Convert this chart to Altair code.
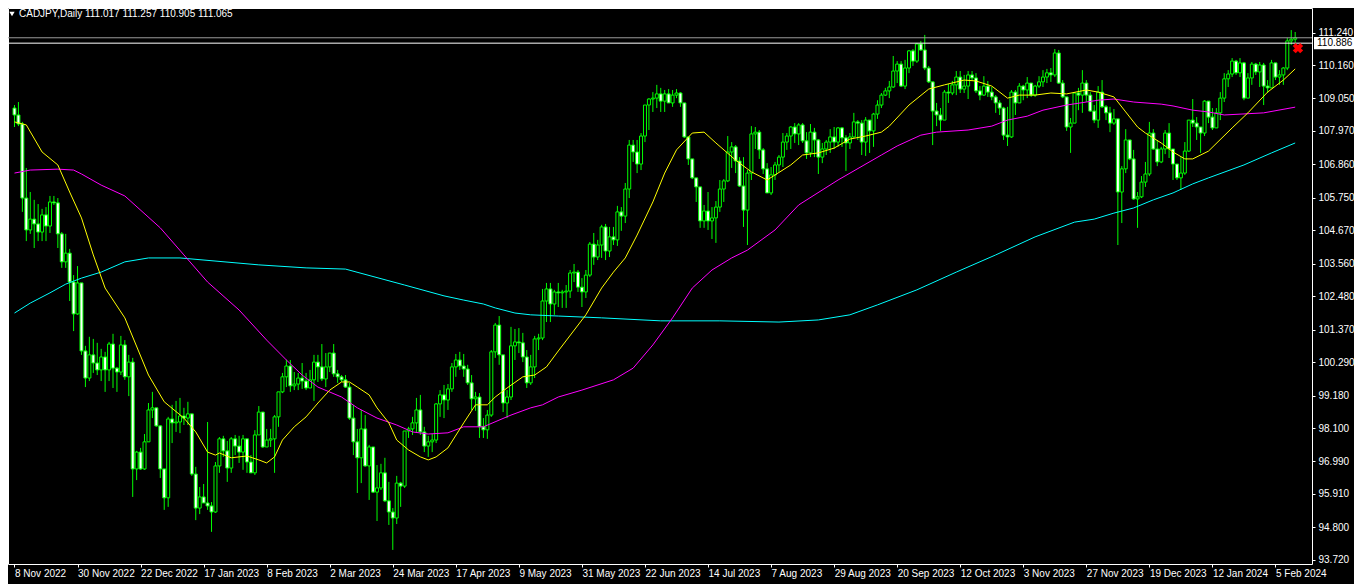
import altair as alt
import pandas as pd
import numpy as np

title_text = "CADJPY,Daily  111.017 111.257 110.905 111.065"
date_labels = ["8 Nov 2022", "30 Nov 2022", "22 Dec 2022", "17 Jan 2023", "8 Feb 2023",
               "2 Mar 2023", "24 Mar 2023", "17 Apr 2023", "9 May 2023", "31 May 2023",
               "22 Jun 2023", "14 Jul 2023", "7 Aug 2023", "29 Aug 2023", "20 Sep 2023",
               "12 Oct 2023", "3 Nov 2023", "27 Nov 2023", "19 Dec 2023", "12 Jan 2024",
               "5 Feb 2024"]
price_ticks = [111.24, 110.16, 109.05, 107.97, 106.86, 105.75, 104.67, 103.56, 102.48,
               101.37, 100.29, 99.18, 98.10, 96.99, 95.91, 94.80, 93.72]

first_open = 108.73
closes = [108.50,108.20,105.74,104.68,105.04,104.88,104.61,105.18,104.81,105.61,
105.58,104.55,103.62,103.91,102.95,101.89,102.92,100.66,99.76,100.53,
100.26,100.03,100.46,100.03,100.89,100.09,99.96,100.86,99.80,100.29,
96.74,97.30,96.74,97.64,98.70,98.77,98.17,96.74,95.78,98.40,
98.27,98.30,98.50,98.43,98.57,96.57,95.44,95.81,95.61,95.51,
95.31,96.84,97.74,97.34,96.77,97.74,97.50,97.30,97.74,96.97,
96.61,97.87,98.63,97.47,97.70,97.74,98.47,99.30,99.80,100.16,
99.50,99.56,99.76,99.66,99.43,99.70,100.29,100.13,99.73,100.13,
100.59,99.90,99.80,99.70,99.46,98.43,97.64,97.11,98.07,96.84,
97.47,95.97,96.11,96.61,95.68,95.31,95.11,96.27,96.17,98.00,
98.07,98.27,98.70,97.97,97.50,97.64,97.70,98.90,99.20,99.03,
99.40,100.13,100.36,100.16,100.06,99.60,99.07,99.13,98.14,98.04,
98.53,100.63,101.52,100.53,98.93,99.13,100.83,100.96,100.93,100.46,
99.60,100.13,101.06,101.09,102.32,102.72,102.22,102.62,102.59,102.62,
102.65,103.25,103.28,102.78,102.62,103.18,104.21,103.78,104.18,104.78,
103.98,104.45,104.35,105.28,105.14,106.04,107.50,107.27,106.87,107.80,
108.83,109.03,109.06,109.20,108.96,109.20,108.90,109.16,109.23,108.90,
107.77,107.04,106.41,106.11,104.98,105.31,104.98,105.08,105.44,106.04,
106.31,107.27,107.44,106.97,106.14,105.34,106.57,107.87,107.93,107.34,
106.71,105.91,106.51,106.84,107.10,107.60,107.80,108.10,107.87,108.17,
107.64,107.24,107.93,107.67,107.10,107.37,107.60,107.77,107.60,108.07,
107.74,107.57,107.77,108.27,108.23,107.60,108.33,107.97,108.53,108.83,
109.16,109.30,109.43,109.96,110.19,109.46,110.06,110.63,110.29,110.86,
110.66,110.06,109.60,108.63,108.50,108.33,109.26,109.23,109.50,109.76,
109.36,109.46,109.83,109.73,109.30,109.16,109.46,109.26,109.10,108.90,
108.73,107.83,107.77,109.26,108.90,109.46,109.33,109.56,109.16,109.46,
109.60,109.76,109.90,109.83,110.56,109.56,109.10,108.10,108.23,109.23,
109.16,109.56,109.16,108.63,108.33,109.26,108.77,108.57,108.23,108.37,
105.94,106.71,107.67,107.04,105.71,105.78,106.27,106.54,107.90,107.37,
106.94,107.37,107.90,107.37,106.87,106.41,106.57,107.30,108.33,108.23,
108.10,107.90,108.96,108.43,108.07,108.57,109.06,109.70,109.86,110.29,
109.90,110.23,109.06,109.73,110.19,109.93,110.16,109.46,109.40,110.23,
109.76,109.83,110.06,110.96,111.017,111.065]

highs = [108.83,108.93,108.27,106.74,105.94,105.68,105.54,105.38,105.44,105.81,
105.81,105.74,104.61,104.55,104.05,103.18,103.48,102.92,100.83,101.13,
101.06,100.93,100.73,100.63,100.96,101.23,100.13,101.16,101.02,100.53,
100.43,97.34,97.44,97.90,98.93,99.30,98.77,98.20,96.27,98.47,
98.87,99.00,99.10,98.77,98.97,98.57,96.81,96.14,96.24,98.30,
95.64,96.97,97.80,97.84,97.67,97.80,97.87,97.84,97.87,97.74,
97.20,98.03,98.83,98.63,98.07,98.07,98.53,99.30,99.93,100.36,
100.36,99.96,99.93,100.26,99.93,100.03,100.53,100.53,100.89,100.59,
100.59,100.89,100.03,99.86,99.86,99.60,98.87,98.07,98.70,98.53,
97.54,97.47,96.87,96.91,97.11,96.31,95.44,96.51,96.31,98.00,
98.14,98.47,99.10,99.20,98.14,97.84,97.90,98.93,99.36,99.53,
99.56,100.26,100.56,100.63,100.56,100.20,99.86,99.30,99.26,98.43,
98.70,100.69,101.59,101.82,100.29,99.36,101.46,101.39,101.42,101.26,
100.69,100.53,101.16,101.23,102.72,102.92,102.92,102.69,102.92,102.69,
102.85,103.35,103.55,103.35,103.08,103.35,104.28,104.58,104.35,104.85,
104.88,104.78,104.78,105.48,105.44,106.24,107.67,107.67,107.67,107.90,
108.83,109.06,109.26,109.50,109.40,109.33,109.36,109.33,109.36,109.26,
108.90,107.77,107.04,106.41,106.11,105.51,105.94,105.44,105.64,106.34,
106.37,107.80,107.60,107.50,107.10,107.10,106.67,108.13,108.10,108.00,
107.40,106.90,106.77,106.94,107.17,107.90,107.90,108.13,108.23,108.23,
108.23,107.93,108.20,108.07,107.70,107.57,107.67,108.03,108.10,108.10,
108.10,107.83,107.90,108.57,108.33,108.33,108.43,108.07,108.57,108.99,
109.23,109.40,109.63,110.46,110.29,110.29,110.33,110.66,110.69,110.89,
110.96,111.16,110.13,109.56,108.90,108.73,109.33,109.53,109.63,109.96,
109.96,109.83,109.96,109.96,109.89,109.46,109.79,109.63,109.43,109.16,
108.99,108.77,108.77,109.33,109.33,109.56,109.50,109.76,109.56,109.50,
109.79,109.99,110.03,110.06,110.69,110.66,109.66,109.06,108.40,109.26,
109.40,109.99,109.66,109.26,108.83,109.46,109.66,108.83,108.77,108.70,
108.37,106.80,108.03,107.67,107.34,105.94,106.47,106.94,108.27,108.03,
107.67,107.44,108.00,108.23,107.37,106.80,107.10,107.60,108.33,109.03,
108.43,108.10,108.99,108.83,108.73,108.73,109.26,109.89,109.99,110.39,
110.33,110.39,110.26,109.89,110.26,110.23,110.26,110.23,109.66,110.33,
110.23,109.99,110.09,111.06,111.32,111.257]

lows = [108.10,108.13,105.28,104.31,104.55,104.08,104.31,104.31,104.31,104.58,
105.51,104.08,103.42,103.42,102.32,101.32,101.86,100.53,99.46,99.66,
99.93,99.86,99.66,99.30,99.66,99.43,99.30,99.86,99.70,99.16,
95.81,96.37,96.71,96.71,97.67,98.43,98.14,96.44,95.38,95.48,
97.60,97.97,97.93,98.20,98.20,96.51,95.04,95.24,95.61,95.38,
94.65,95.28,96.61,97.14,96.31,96.61,97.20,96.94,96.71,96.61,
96.61,96.54,98.10,97.44,97.47,97.47,96.61,98.14,99.26,99.46,
99.30,99.36,99.36,99.40,99.36,99.46,99.00,99.63,99.66,99.46,
99.96,99.80,99.60,99.63,99.43,98.37,97.20,95.94,96.27,96.81,
95.71,95.94,95.01,96.04,95.64,94.88,94.05,94.91,95.48,96.11,
97.77,97.87,97.97,97.87,97.30,97.14,97.30,97.60,98.47,98.43,
98.70,99.30,99.80,100.03,99.80,99.53,98.70,98.67,97.77,97.77,
97.74,98.47,100.43,100.20,98.63,98.43,99.03,100.36,100.59,100.29,
99.43,99.53,99.76,100.69,101.02,101.62,101.62,101.86,102.12,102.09,
102.09,102.42,102.95,102.62,102.12,102.42,103.12,103.52,103.68,103.75,
103.68,103.78,104.18,104.15,104.65,104.91,105.74,106.94,106.57,106.67,
107.60,108.00,108.60,108.73,108.60,108.60,108.90,108.77,109.06,108.77,
107.74,106.84,106.37,105.61,104.75,104.75,104.68,104.38,104.25,105.28,
105.61,106.27,106.74,106.57,106.11,104.78,104.18,106.34,107.37,107.04,
106.54,105.91,105.84,106.34,106.61,106.77,107.34,107.37,107.57,107.50,
107.57,107.04,107.10,107.10,106.54,106.90,107.17,107.24,107.37,107.44,
107.44,106.64,107.37,107.74,107.67,107.17,107.14,107.24,107.44,108.37,
108.73,109.13,109.06,109.40,109.56,109.43,109.36,109.89,110.13,110.23,
110.63,109.99,109.56,107.50,108.13,107.97,108.33,108.90,109.16,109.16,
109.23,109.23,109.03,109.63,109.23,108.99,109.13,109.10,108.99,108.57,
108.50,107.67,107.47,107.74,108.50,108.90,108.99,109.06,109.10,109.10,
109.40,109.43,109.56,109.60,109.76,109.53,109.06,107.97,107.24,108.23,
108.66,108.57,108.93,108.60,108.23,108.07,108.73,108.33,107.93,108.17,
104.18,104.91,106.57,107.00,105.68,104.75,105.74,106.11,106.47,107.34,
106.80,106.90,107.20,107.07,106.34,106.34,106.01,106.51,107.27,108.10,
107.67,107.24,107.80,108.23,108.00,108.07,108.33,108.93,109.43,109.76,
109.83,109.76,108.99,109.26,109.50,109.83,109.43,108.83,109.23,109.60,
109.66,109.50,109.50,109.99,110.83,110.905]

fast_idx = [0,3,7,11,14,17,20,23,28,34,38,43,46,49,51,52,55,59,62,64,66,68,71,74,77,80,83,85,87,90,
            92,95,97,100,103,105,107,110,114,117,120,122,125,129,132,135,138,145,149,152,155,158,162,165,
            168,172,175,178,183,187,191,197,200,204,208,212,216,220,222,227,232,236,241,244,248,252,255,
            259,263,267,272,275,279,282,285,287,291,294,297,299,303,309,313,318,322,325]
fast_val = [108.27,108.17,107.27,106.84,105.94,105.08,103.85,102.75,101.76,99.86,
            98.97,98.43,97.97,97.30,97.20,97.27,97.11,97.17,97.04,96.94,
            97.14,97.70,98.14,98.47,98.93,99.36,99.63,99.63,99.46,99.20,
            98.77,98.27,97.70,97.37,97.14,97.04,97.14,97.44,98.27,98.87,
            98.87,99.13,99.43,99.80,99.86,100.13,100.66,101.86,102.75,103.28,
            103.75,104.51,105.61,106.57,107.34,107.90,107.93,107.57,107.00,106.61,
            106.34,106.84,107.17,107.24,107.40,107.70,107.80,107.93,108.13,108.83,
            109.36,109.50,109.66,109.63,109.46,109.06,109.16,109.16,109.23,109.20,
            109.33,109.26,109.10,108.60,108.10,107.90,107.57,107.27,107.04,107.04,
            107.30,108.07,108.57,109.26,109.66,110.03]

mid_idx = [0,4,11,15,17,22,28,37,43,49,57,64,69,73,77,83,87,92,97,101,105,110,114,119,126,131,134,
           138,144,152,157,162,167,172,177,182,186,193,199,209,220,224,230,234,242,248,252,257,261,267,
           272,275,279,284,291,294,299,303,307,317,325]
mid_val = [106.57,106.67,106.70,106.67,106.54,106.17,105.81,104.75,103.85,102.95,
           102.02,101.02,100.36,99.86,99.46,99.13,98.77,98.43,98.20,97.97,
           97.90,97.94,98.14,98.14,98.53,98.77,98.87,99.13,99.36,99.70,
           100.09,100.86,101.76,102.75,103.35,103.75,104.01,104.68,105.51,106.34,
           107.17,107.47,107.83,107.93,108.00,108.13,108.33,108.46,108.66,108.83,
           108.93,108.99,109.03,108.93,108.86,108.80,108.66,108.60,108.50,108.57,
           108.76]

slow_idx = [0,4,9,13,17,22,28,34,42,62,74,84,99,109,114,119,122,127,131,138,149,164,179,194,204,212,
            219,229,239,249,259,269,274,279,284,289,294,299,303,312,319,325]
slow_val = [101.92,102.25,102.59,102.88,103.08,103.28,103.62,103.75,103.75,103.52,
            103.42,103.38,102.85,102.49,102.35,102.22,102.09,101.92,101.86,101.82,
            101.76,101.66,101.66,101.62,101.69,101.86,102.19,102.69,103.28,103.85,
            104.45,104.94,105.04,105.24,105.41,105.68,105.91,106.21,106.41,106.84,
            107.24,107.57]

bid_price = 111.065
hline_price = 110.886
marker_idx = 325.7
marker_price = 110.72

# ---------------------------------------------------------------
opens = [first_open] + closes[:-1]
n = len(closes)
df = pd.DataFrame({"i": list(range(n)), "open": opens, "close": closes,
                   "high": highs, "low": lows})
df["high"] = df[["high", "open", "close"]].max(axis=1)
df["low"] = df[["low", "open", "close"]].min(axis=1)
df["dir"] = np.where(df["close"] >= df["open"], "up", "down")

W, H = 1304, 556
PAD_R, PAD_B = 42, 20
FONT = "Liberation Sans"
GREEN = "#00ff00"
x_scale = alt.Scale(domain=[-0.378, 328.0], nice=False, zero=False)
y_scale = alt.Scale(domain=[93.582, 112.054], nice=False, zero=False)

label_js = "[" + ",".join("'" + s + "'" for s in date_labels) + "][round(datum.value/16)]"
x_axis = alt.Axis(values=list(range(0, 16 * len(date_labels), 16)), labelExpr=label_js,
                  orient="bottom", domain=False, grid=False, title=None,
                  ticks=True, tickColor="white", tickSize=3,
                  labelColor="white", labelFont=FONT, labelFontSize=10,
                  labelAlign="left", labelBaseline="top", labelPadding=1,
                  labelOverlap=False, labelFlush=False, labelBound=False)
y_axis = alt.Axis(values=price_ticks, format=".3f", orient="right",
                  domain=False, grid=False, title=None,
                  ticks=True, tickColor="white", tickSize=3,
                  labelColor="white", labelFont=FONT, labelFontSize=10,
                  labelAlign="left", labelBaseline="middle", labelPadding=3,
                  labelOverlap=False, labelFlush=False, labelBound=False)

def X(f):
    return alt.X(f, scale=x_scale, axis=x_axis)

def Y(f):
    return alt.Y(f, scale=y_scale, axis=y_axis)

base = alt.Chart(df)
wicks = base.mark_rule(color=GREEN, strokeWidth=1).encode(
    x=X("i:Q"), y=Y("low:Q"), y2="high:Q")
bodies = base.mark_bar(size=3, stroke=GREEN, strokeWidth=1).encode(
    x=X("i:Q"), y=Y("open:Q"), y2="close:Q",
    fill=alt.Fill("dir:N", scale=alt.Scale(domain=["up", "down"], range=["black", "white"]),
                  legend=None))

def ma_layer(idx, val, color):
    d = pd.DataFrame({"idx": idx, "val": val})
    return alt.Chart(d).mark_line(color=color, strokeWidth=1).encode(
        x=X("idx:Q"), y=Y("val:Q"))

ma_fast = ma_layer(fast_idx, fast_val, "#ffff00")
ma_mid = ma_layer(mid_idx, mid_val, "#ff00ff")
ma_slow = ma_layer(slow_idx, slow_val, "#00ffff")

bid_line = alt.Chart(pd.DataFrame({"p": [bid_price]})).mark_rule(
    color="#9a9a9a", strokeWidth=1).encode(y=Y("p:Q"))
h_line = alt.Chart(pd.DataFrame({"p": [hline_price]})).mark_rule(
    color="white", strokeWidth=1).encode(y=Y("p:Q"))

box_df = pd.DataFrame({"p": [hline_price], "t": [f"{hline_price:.3f}"]})
box = alt.Chart(box_df).mark_point(
    shape="M-1,-0.29L1,-0.29L1,0.29L-1,0.29Z", filled=True, color="white",
    size=1764, opacity=1).encode(x=alt.value(W + 23), y=Y("p:Q"))
box_text = alt.Chart(box_df).mark_text(
    align="left", baseline="middle", color="black", font=FONT, fontSize=10).encode(
    x=alt.value(W + 5), y=Y("p:Q"), text="t:N")

marker = alt.Chart(pd.DataFrame({"i": [marker_idx], "p": [marker_price]})).mark_point(
    shape="cross", angle=45, filled=True, color="#ff0000", size=110, opacity=1).encode(
    x=X("i:Q"), y=Y("p:Q"))

title_df = pd.DataFrame({"t": [title_text]})
title_mark = alt.Chart(title_df).mark_text(
    align="left", baseline="middle", color="white", font=FONT, fontSize=10).encode(
    x=alt.value(11), y=alt.value(6), text="t:N")
tri = alt.Chart(title_df).mark_point(
    shape="triangle-down", filled=True, color="white", size=28, opacity=1).encode(
    x=alt.value(4), y=alt.value(6))

chart = alt.layer(
    wicks, bodies, ma_slow, ma_mid, ma_fast, bid_line, h_line,
    box, box_text, marker, title_mark, tri
).properties(
    width=W, height=H,
    autosize=alt.AutoSizeParams(type="none"),
    padding={"left": 0, "top": 0, "right": PAD_R, "bottom": PAD_B},
).configure(background="black").configure_view(stroke="white", strokeWidth=1)

chart.save("out.html", embed_options={"renderer": "svg", "actions": False})
